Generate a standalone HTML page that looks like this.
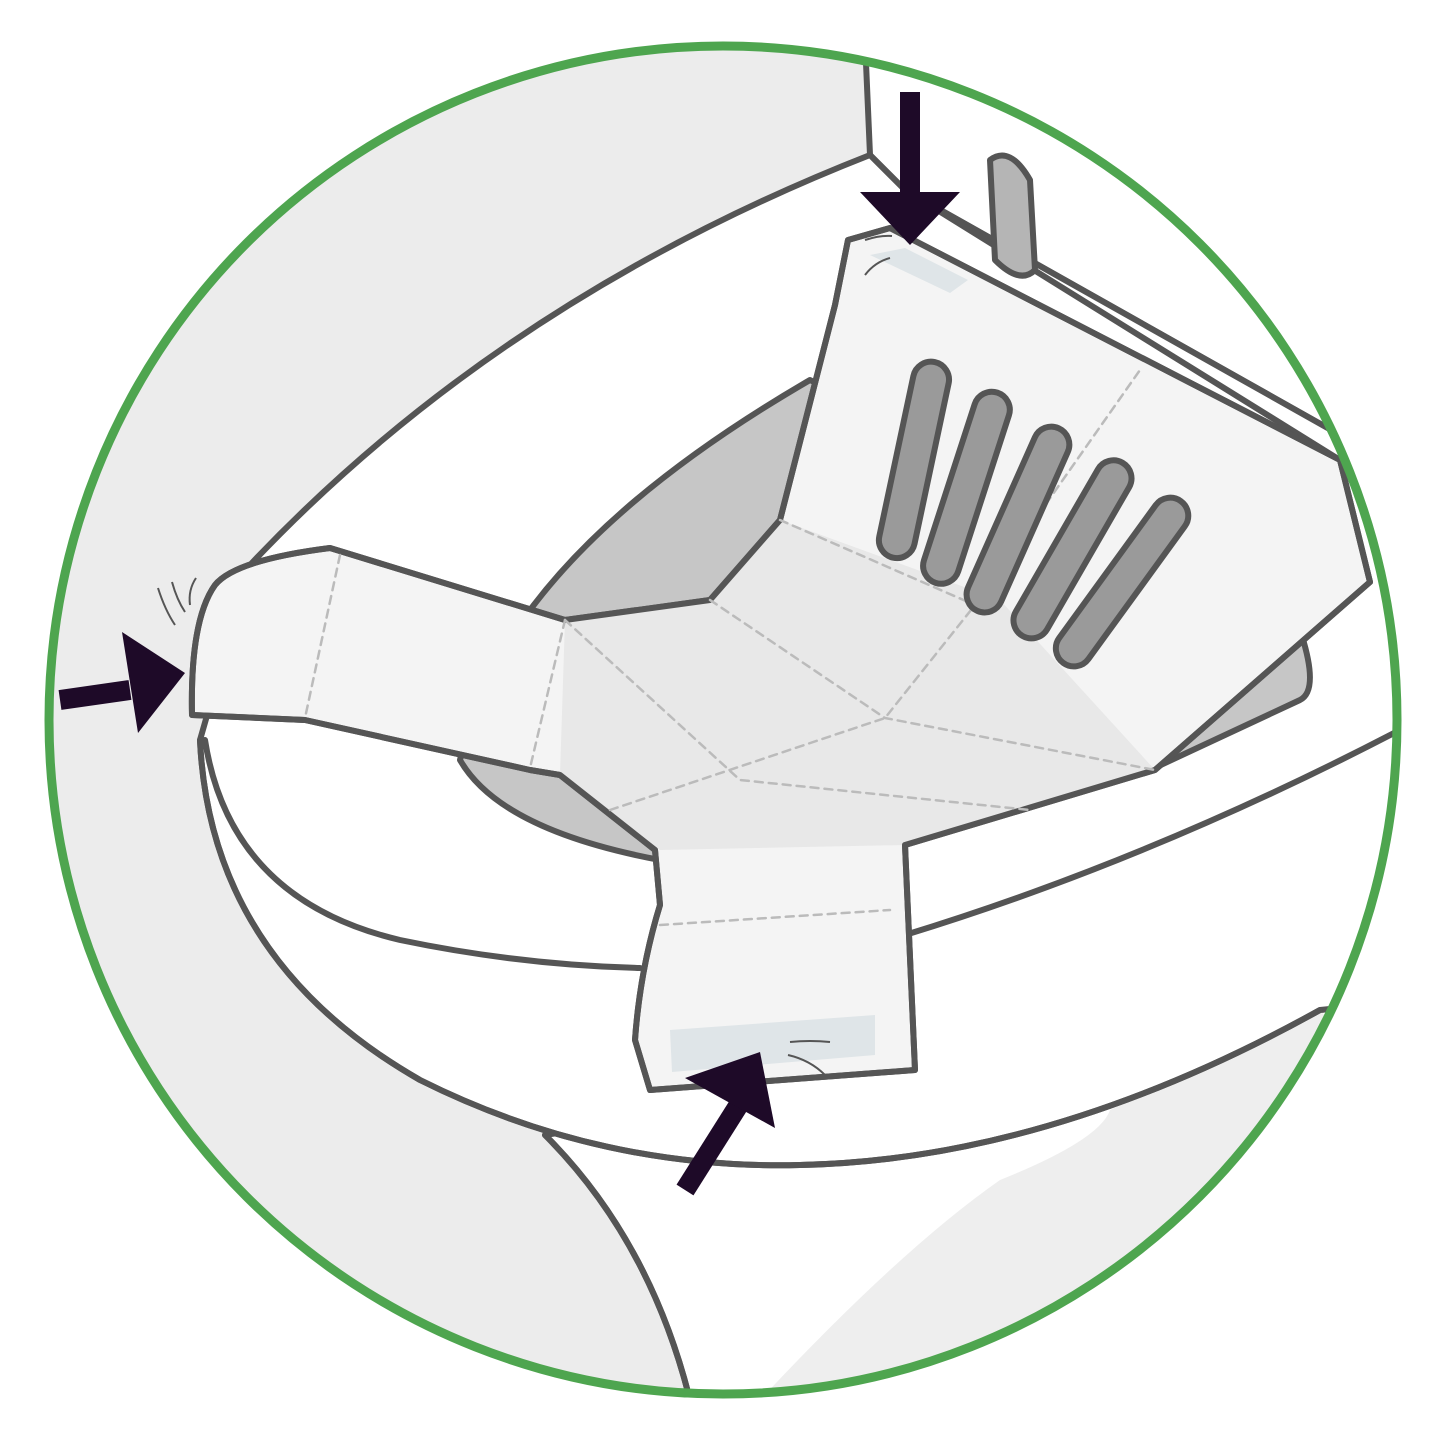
<!DOCTYPE html>
<html><head><style>html,body{margin:0;padding:0;background:#fff}svg{display:block}</style></head>
<body>
<svg width="1446" height="1444" viewBox="0 0 1446 1444" xmlns="http://www.w3.org/2000/svg">
<defs>
<clipPath id="c"><circle cx="723" cy="720" r="674"/></clipPath>
</defs>
<g clip-path="url(#c)" stroke="#555" stroke-width="6" stroke-linejoin="round" stroke-linecap="round">
<rect x="0" y="0" width="1446" height="1444" fill="#ececec" stroke="none"/>
<!-- tank / top-right white -->
<path d="M865,40 L870,155 L905,190 L1420,480 L1420,40 Z" fill="#fff"/>
<!-- pedestal -->
<path d="M545,1135 Q650,1240 690,1400 L1400,1400 L1400,1000 L1320,1010 Z" fill="#fff"/>
<path d="M760,1400 Q900,1250 1000,1180 Q1100,1140 1110,1110 L1320,1010 L1400,1100 L1400,1400 Z" fill="#eee" stroke="none"/>
<path d="M545,1135 Q650,1240 690,1400" fill="none"/>
<!-- seat ring (whole white body) -->
<path d="M250,565 Q500,300 870,155 L905,190 L1420,480 L1420,1000 L1320,1010 Q1050,1160 800,1165 Q600,1170 420,1080 Q210,960 200,740 Z" fill="#fff"/>
<path d="M1320,1010 Q1050,1160 800,1165 Q600,1170 420,1080 Q210,960 200,740" fill="none"/>
<path d="M205,740 Q230,900 400,940 Q520,965 640,968" fill="none"/>
<path d="M905,935 Q1150,860 1400,730" fill="none"/>
<path d="M905,190 L1340,460" fill="none"/>
<!-- bowl opening -->
<path d="M460,760 Q500,560 810,380 L1300,630 Q1320,690 1300,700 L1150,770 L660,860 Q500,830 460,760 Z" fill="#c6c6c6"/>
<!-- paper cover -->
<path d="M192,715 Q190,620 215,585 Q235,560 330,548 L565,620 L710,600 L780,520 L835,305 L848,240 L890,228 L1340,460 L1370,582 L1155,770 L905,845 L915,1070 L650,1090 L635,1040 Q640,970 660,905 L655,850 L560,775 L530,770 L305,720 Z" fill="#f4f4f4"/>
<path d="M565,620 L710,600 L780,520 L1000,600 L1155,770 L905,845 L660,850 L560,775 Z" fill="#e8e8e8" stroke="none"/>
<path d="M192,715 Q190,620 215,585 Q235,560 330,548 L565,620 L710,600 L780,520 L835,305 L848,240 L890,228 L1340,460 L1370,582 L1155,770 L905,845 L915,1070 L650,1090 L635,1040 Q640,970 660,905 L655,850 L560,775 L530,770 L305,720 Z" fill="none"/>
<g fill="none" stroke="#bbb" stroke-width="2.5" stroke-dasharray="8,6">
<path d="M340,555 L305,718"/><path d="M565,620 L530,768"/>
<path d="M710,600 L885,718 L1155,770"/><path d="M780,520 L975,605 L1140,370"/>
<path d="M610,810 L885,718 L975,605"/><path d="M565,620 L740,780 L1030,810"/>
<path d="M660,925 L890,910"/>
</g>
<!-- tape strips -->
<path d="M670,1030 L875,1015 L875,1055 L672,1072 Z" fill="#dfe5e8" stroke="none"/>
<path d="M870,255 L905,248 L968,280 L950,293 Z" fill="#dfe5e8" stroke="none"/>
<!-- lever -->
<path d="M990,160 Q1010,145 1030,180 L1035,270 Q1020,285 995,260 Z" fill="#b5b5b5"/>
<!-- tubes -->
<g fill="#9a9a9a">
<rect x="-18" y="-95" width="36" height="200" rx="18" transform="translate(915,455) rotate(12)"/>
<rect x="-18" y="-95" width="36" height="200" rx="18" transform="translate(968,483) rotate(18)"/>
<rect x="-18" y="-95" width="36" height="200" rx="18" transform="translate(1020,515) rotate(24)"/>
<rect x="-18" y="-95" width="36" height="200" rx="18" transform="translate(1075,545) rotate(30)"/>
<rect x="-18" y="-95" width="36" height="200" rx="18" transform="translate(1125,578) rotate(36)"/>
</g>
</g>
<!-- arrows -->
<g stroke="#1e0a28" stroke-width="20" fill="none">
<line x1="60" y1="700" x2="130" y2="690"/>
<line x1="910" y1="92" x2="910" y2="200"/>
<line x1="685" y1="1190" x2="745" y2="1095"/>
</g>
<g fill="#1e0a28">
<path d="M122,632 L185,673 L138,733 Z"/>
<path d="M860,192 L960,192 L910,245 Z"/>
<path d="M685,1078 L760,1052 L775,1128 Z"/>
</g>
<g stroke="#555" stroke-width="2" fill="none">
<path d="M158,588 Q165,610 175,625"/><path d="M172,582 Q177,600 185,612"/><path d="M196,578 Q188,590 190,605"/>
<path d="M790,1042 Q810,1040 830,1042"/><path d="M788,1055 Q810,1060 825,1075"/>
<path d="M865,240 Q880,235 892,236"/><path d="M865,275 Q875,262 890,258"/>
</g>
<circle cx="723" cy="720" r="674" fill="none" stroke="#4ea54f" stroke-width="9"/>
</svg>
</body></html>
